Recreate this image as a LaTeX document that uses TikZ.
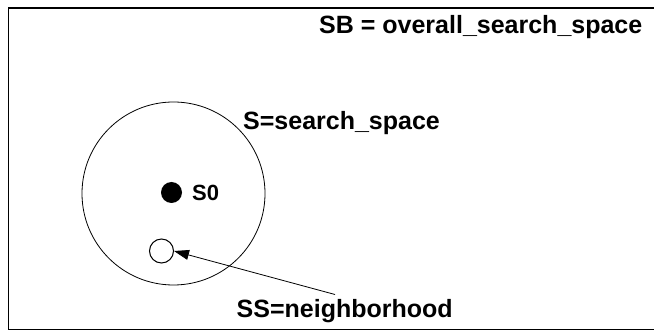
\documentclass[tikz,border=0pt]{standalone}
\usepackage{fontspec}
\setmainfont{Liberation Sans}
\usetikzlibrary{arrows.meta}
\begin{document}
\begin{tikzpicture}[x=1pt,y=-1pt,
  lbl/.style={inner sep=0pt,anchor=base west,font=\bfseries\fontsize{25}{29}\selectfont},
  thinline/.style={line width=0.8pt}]
\useasboundingbox (0,0) rectangle (654,331);
% frame (right edge lies outside the picture)
\draw[line width=1.4pt] (660,8) -- (8.5,8) -- (8.5,329.5) -- (660,329.5);
% search space circle
\node[draw,thinline,circle,minimum size=183pt,inner sep=0pt] (S) at (173.5,193.5) {};
% S0
\node[fill=black,circle,minimum size=21pt,inner sep=0pt] (s0) at (171.5,192.5) {};
\node[lbl,font=\bfseries\fontsize{22}{25}\selectfont] (s0l) at (192,200.5) {S0};
% neighbor
\node[draw,line width=1pt,circle,minimum size=24pt,inner sep=0pt] (n) at (161.5,251) {};
% labels
\node[lbl] (sb) at (319,33.5) {SB = overall\_search\_space};
\node[lbl] (ss) at (243,130) {S=search\_space};
\node[lbl] (nb) at (236.5,317.5) {SS=neighborhood};
\coordinate (as) at (335,294.5);
\draw[thinline,-{Triangle[length=15pt,width=10pt]}] (as) -- (n.east);
\end{tikzpicture}
\end{document}
